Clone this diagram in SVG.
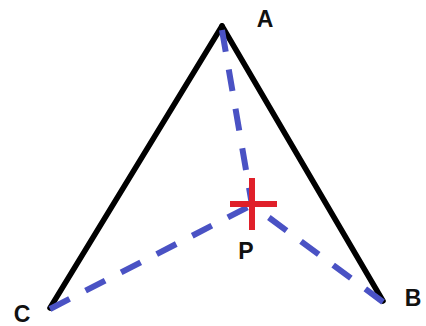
<svg xmlns="http://www.w3.org/2000/svg" width="426" height="326" viewBox="0 0 426 326">
<style>
.side{stroke:#000;stroke-width:5.5;fill:none;stroke-linecap:round}
.dash{stroke:#4a52c4;stroke-width:6;fill:none;stroke-dasharray:22 18}
.lbl{font-family:"Liberation Sans",Arial,sans-serif;font-weight:bold;font-size:23px;fill:#111;text-anchor:middle}
.cross{stroke:#e0202a;stroke-width:6}
</style>
<rect width="426" height="326" fill="#fff"/>
<g id="connectors">
<line class="side" x1="222" y1="26" x2="50" y2="308"/>
<line class="side" x1="222" y1="26" x2="383" y2="301"/>
<line class="dash" x1="222" y1="30" x2="252" y2="205"/>
<line class="dash" x1="50" y1="309" x2="252" y2="205"/>
<line class="dash" x1="383" y1="302" x2="252" y2="205"/>
</g>
<g id="A"><text class="lbl" x="265" y="27">A</text></g>
<g id="B"><text class="lbl" x="413" y="306">B</text></g>
<g id="C"><text class="lbl" x="22" y="322">C</text></g>
<g id="P">
<line class="cross" x1="252" y1="178" x2="252" y2="230"/>
<line class="cross" x1="230" y1="204" x2="277" y2="204"/>
<text class="lbl" x="246" y="259">P</text>
</g>
</svg>
